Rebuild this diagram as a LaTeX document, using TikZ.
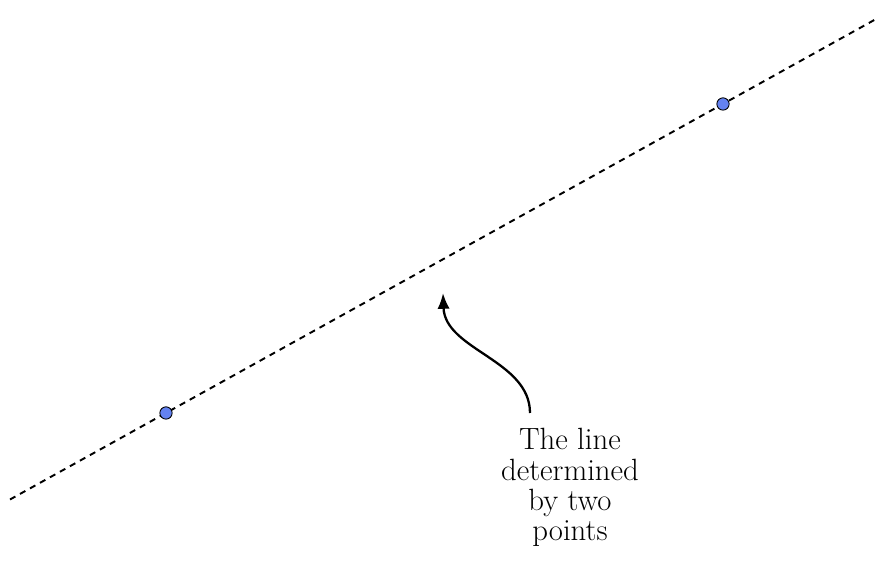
\documentclass[tikz,border=0pt]{standalone}
\definecolor{pointblue}{RGB}{100,130,240}
\usepackage{tikz}
\usetikzlibrary{arrows.meta,positioning,calc}

\begin{document}
\begin{tikzpicture}[x=0.02cm, y=-0.02cm,
      pnt/.style={circle, draw, fill=pointblue, inner sep=0pt, minimum size=7pt, line width=0.5pt},
      guide/.style={dash pattern=on 3.5pt off 3pt, line width=1.1pt},
      arr/.style={-{Latex[length=9pt, width=7pt]}, line width=1.3pt},
      note/.style={font=\fontsize{17.5}{17.3}\selectfont, align=center, inner sep=0pt}
    ]
      \useasboundingbox (0,0) rectangle (877,573);
      \coordinate (lstart) at (10,499.5);
      \coordinate (lend) at (877,18.5);
      \draw[guide] (lstart) -- (lend);
      \node[pnt] (p1) at (166,413) {};
      \node[pnt] (p2) at (723,104) {};
      \node[note, anchor=north] (label) at (570,428) {The line\\determined\\by two\\points};
      \coordinate (tail) at (530,413);
      \coordinate (head) at (443,293);
      \draw[arr] (tail) .. controls (530,360) and (445,350) .. (head);
    \end{tikzpicture}
\end{document}
